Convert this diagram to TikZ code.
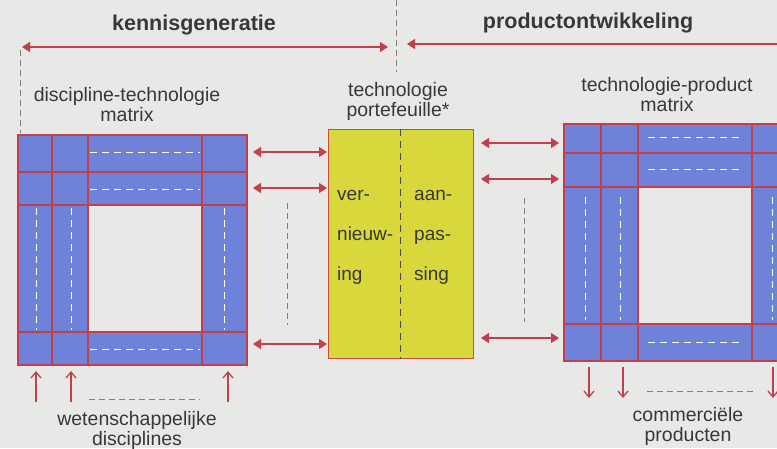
\documentclass[tikz,border=0pt]{standalone}
\usepackage{fontspec}
\setmainfont{Liberation Sans}
\usetikzlibrary{positioning,arrows.meta}

\definecolor{bgray}{HTML}{E8E8E6}
\definecolor{mblue}{HTML}{6D82D8}
\definecolor{myellow}{HTML}{D8D83C}
\definecolor{lred}{HTML}{C2404E}
\definecolor{txtgray}{HTML}{383838}

\tikzset{
  lbl/.style={align=center,text=txtgray,inner sep=0pt,font=\fontsize{19.5}{20}\selectfont},
  kop/.style={text=txtgray,inner sep=0pt,font=\fontsize{21.5}{24}\selectfont\bfseries},
  boxtxt/.style={text=txtgray,inner sep=0pt,font=\fontsize{19}{20}\selectfont},
  rline/.style={draw=lred,line width=1.2pt},
  pbox/.style={fill=myellow,draw=lred!80!orange,line width=1pt,minimum width=145pt,minimum height=229pt,inner sep=0pt},
  dblarrow/.style={lred,line width=1.5pt,{Triangle[length=8pt,width=10pt]}-{Triangle[length=8pt,width=10pt]}},
  tiparrow/.style={lred,line width=1.3pt,-{Straight Barb[length=6pt,width=10pt]}},
  gdash/.style={gray,line width=0.8pt,dash pattern=on 6pt off 4pt},
  wdash/.style={white,line width=1pt,dash pattern=on 7pt off 5pt},
}

\begin{document}
\begin{tikzpicture}[x=1pt,y=-1pt]
\fill[bgray] (0,0) rectangle (777,448);
\useasboundingbox (0,0) rectangle (777,448);
\clip (0,0) rectangle (777,448);

% headings
\node[kop,anchor=base] (kennis) at (194,30) {kennisgeneratie};
\node[kop,anchor=base] (product) at (588,28) {productontwikkeling};
\coordinate (ka) at (22,47);
\coordinate (kb) at (388,47);
\coordinate (pa) at (407,44);
\coordinate (pb) at (777,44);
\draw[dblarrow] (ka) -- (kb);
\draw[lred,line width=1.5pt,{Triangle[length=8pt,width=10pt]}-] (pa) -- (pb);
\draw[gdash] (20,50) -- (20,133);
\draw[gdash] (396,0) -- (396,72);

% labels
\node[lbl] (dtmatrix) at (127,105) {discipline-technologie\\matrix};
\node[lbl] (portlbl) at (398,101) {technologie\\portefeuille*};
\node[lbl] (tpmatrix) at (667,95) {technologie-product\\matrix};

% left matrix
\fill[mblue] (18,135) rectangle (247,365);
\fill[bgray] (88,205) rectangle (202,332);
\draw[rline] (18,135) rectangle (247,365);
\foreach \x in {52,88,202}
  \draw[rline] (\x,135) -- (\x,365);
\foreach \y in {172,205,332}
  \draw[rline] (18,\y) -- (247,\y);
\foreach \y in {152,189,349}
  \draw[wdash] (90,\y) -- (200,\y);
\foreach \x in {36,71,224}
  \draw[wdash] (\x,208) -- (\x,330);

% right matrix
\fill[mblue] (564,124) rectangle (793,361);
\fill[bgray] (638,187) rectangle (752,324);
\draw[rline] (564,124) rectangle (793,361);
\foreach \x in {601,638,752}
  \draw[rline] (\x,124) -- (\x,361);
\foreach \y in {153,187,324}
  \draw[rline] (564,\y) -- (793,\y);
\foreach \y in {137,169,342}
  \draw[wdash] (648,\y) -- (741,\y);
\foreach \x in {585,620,772}
  \draw[wdash] (\x,197) -- (\x,320);

% technologie portefeuille
\node[pbox] (portf) at (400.5,243.5) {};
\draw[gray!60!black,line width=0.8pt,dash pattern=on 7pt off 5pt] (portf.north) -- (portf.south);
\foreach \t/\u/\y [count=\i] in {ver-/aan-/200,nieuw-/pas-/240,ing/sing/280}{
  \node[boxtxt,anchor=base west] (vern\i) at (337,\y) {\t};
  \node[boxtxt,anchor=base west] (aanp\i) at (414,\y) {\u};
}

% arrows to and from the portfolio
\foreach \y [count=\i] in {152,188,344}{
  \coordinate (la\i) at (253,\y);
  \coordinate (lb\i) at (327,\y);
  \draw[dblarrow] (la\i) -- (lb\i);
}
\foreach \y [count=\i] in {143,179,338}{
  \coordinate (ra\i) at (481,\y);
  \coordinate (rb\i) at (559,\y);
  \draw[dblarrow] (ra\i) -- (rb\i);
}
\draw[gdash] (287,203) -- (287,325);
\draw[gdash] (524,198) -- (524,322);

% disciplines in, products out
\foreach \x [count=\i] in {36,71,228}{
  \coordinate (wa\i) at (\x,402);
  \coordinate (wb\i) at (\x,371);
  \draw[tiparrow] (wa\i) -- (wb\i);
}
\foreach \x [count=\i] in {589,623,773}{
  \coordinate (ca\i) at (\x,367);
  \coordinate (cb\i) at (\x,398);
  \draw[tiparrow] (ca\i) -- (cb\i);
}
\draw[gdash] (89,399) -- (200,399);
\draw[gdash] (647,391) -- (756,391);
\node[lbl] (wetdisc) at (137,430) {wetenschappelijke\\disciplines};
\node[lbl] (commprod) at (688,426) {commerciële\\producten};

\end{tikzpicture}
\end{document}
